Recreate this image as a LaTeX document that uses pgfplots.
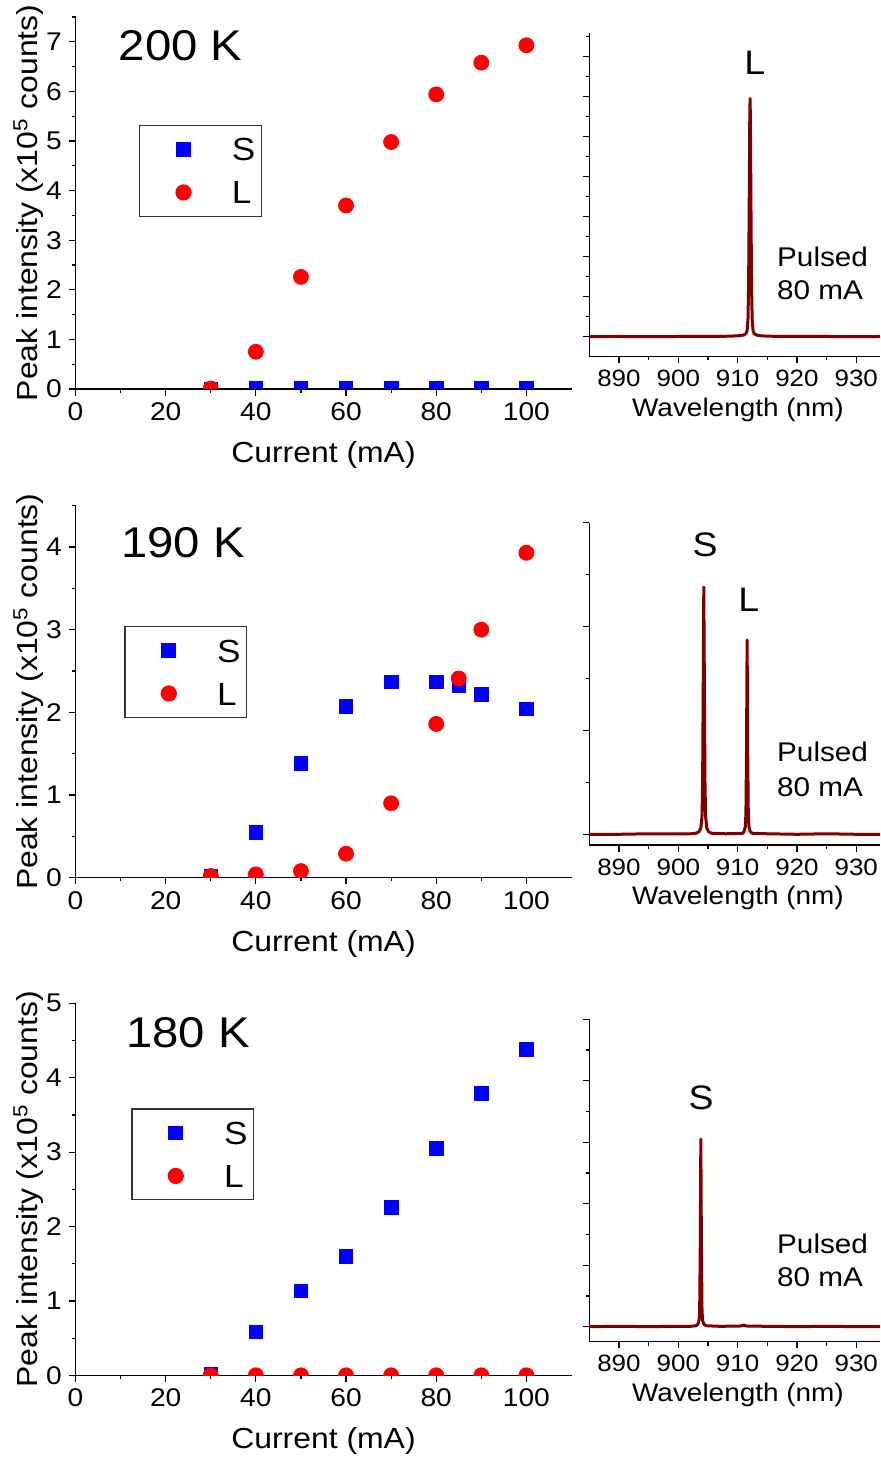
\documentclass[border=0pt]{standalone}
\usepackage{fontspec}
\setmainfont{Liberation Sans}[FakeStretch=1.1]
\usepackage{pgfplots}
\pgfplotsset{compat=1.18}
\definecolor{specred}{RGB}{128,0,0}

\pgfplotsset{
  panel/.style={
    scale only axis, axis lines=left,
    axis line style={-, line width=0.6pt, black},
    tick align=outside, major tick length=3.3pt, minor tick length=1.9pt,
    tick style={line width=0.6pt, black},
    /pgf/number format/assume math mode=true,
    clip marker paths=true,
  },
  leftpanel/.style={
    panel, width=248pt, height=186pt,
    xmin=0, xmax=110, ymin=0,
    xtick={0,20,...,100}, minor x tick num=1,
    ytick distance=1, minor y tick num=1,
    ticklabel style={font=\fontsize{12.8}{15}\selectfont},
    xlabel={Current (mA)},
    ylabel={Peak intensity (x10\textsuperscript{5} counts)},
    label style={font=\fontsize{14.5}{17}\selectfont},
    xlabel style={at={(axis description cs:0.5,0)}, anchor=center, yshift=-33pt},
    ylabel style={at={(axis description cs:0,0.5)}, anchor=center, yshift=23.4pt},
    legend cell align=left,
    legend image code/.code={\path (0pt,0pt) (42.5pt,0pt); \draw[##1] plot coordinates {(19.65pt,0pt)};},
    legend style={draw=black!80, line width=0.6pt, inner xsep=2pt, inner ysep=6.2pt,
      anchor=north west, font=\fontsize{16}{19}\selectfont, row sep=10pt,
      nodes={inner xsep=1pt, inner ysep=0pt, text height=11.5pt, text depth=0pt}},
  },
  rightpanel/.style={
    panel, width=145.35pt, xmin=885, xmax=934,
    xtick={890,900,...,930}, minor x tick num=1,
    yticklabels={},
    ticklabel style={font=\fontsize{11.8}{13}\selectfont},
    xlabel={Wavelength (nm)},
    xlabel style={font=\fontsize{12.7}{15}\selectfont, at={(axis description cs:0.5115,0)}, anchor=center, yshift=-26.5pt},
  },
  sser/.style={only marks, mark=square*, mark size=3.4pt, color=blue},
  lser/.style={only marks, mark=*, mark size=3.75pt, color=red},
  spec/.style={color=specred, line width=1.5pt, line join=round},
}
\tikzset{
  templab/.style={anchor=west, inner sep=0pt, font=\fontsize{21.5}{24}\selectfont},
  peaklab/.style={anchor=center, inner sep=0pt, font=\fontsize{17}{20}\selectfont},
  pulslab/.style={anchor=west, inner sep=0pt, font=\fontsize{13.5}{16}\selectfont},
}

\begin{document}
\begin{tikzpicture}
\path[use as bounding box] (0pt,0pt) rectangle (440pt,729pt);

% ---- 200 K ----
\begin{axis}[leftpanel, at={(37.75pt,534.5pt)}, anchor=south west, ymax=7.5,
  legend style={at={(axis description cs:0.128,0.7097)}}]
\addplot[sser] coordinates {(30,0.0) (40,0.01) (50,0.01) (60,0.01) (70,0.01) (80,0.01) (90,0.01) (100,0.01)};
\addlegendentry{S}
\addplot[lser] coordinates {(30,0.01) (40,0.75) (50,2.26) (60,3.70) (70,4.98) (80,5.94) (90,6.58) (100,6.93)};
\addlegendentry{L}
\node[templab] at (axis description cs:0.0865,0.922) {200 K};
\end{axis}

\begin{axis}[rightpanel, at={(294.65pt,550.65pt)}, anchor=south west, height=161.85pt,
  ymin=-1, ymax=15.17, ytick={0,2,...,14}, minor ytick={1,3,...,15}]
\addplot[spec] coordinates {(885,0.00) (890,0.01) (895,0.00) (900,0.01) (905,0.01) (908,0.02) (910,0.04) (911,0.08) (911.4,0.15) (911.6,0.3) (911.75,0.9) (911.85,2.5) (911.95,6.5) (912.05,11.0) (912.1,11.9) (912.15,11.0) (912.25,6.5) (912.35,2.5) (912.45,0.9) (912.6,0.3) (912.8,0.15) (913.2,0.08) (914,0.04) (916,0.02) (920,0.01) (925,0.01) (930,0.00) (934,0.01)};
\node[peaklab] at (axis cs:912.9,13.7) {L};
\node[pulslab] at (axis cs:916.6,4.0) {Pulsed};
\node[pulslab] at (axis cs:916.6,2.33) {80 mA};
\end{axis}

% ---- 190 K ----
\begin{axis}[leftpanel, at={(37.75pt,290.15pt)}, anchor=south west, ymax=4.5,
  legend style={at={(axis description cs:0.0984,0.6766)}}]
\addplot[sser] coordinates {(30,0.02) (40,0.55) (50,1.38) (60,2.07) (70,2.37) (80,2.37) (85,2.32) (90,2.22) (100,2.04)};
\addlegendentry{S}
\addplot[lser] coordinates {(30,0.02) (40,0.04) (50,0.08) (60,0.29) (70,0.90) (80,1.86) (85,2.41) (90,3.00) (100,3.93)};
\addlegendentry{L}
\node[templab] at (axis description cs:0.0917,0.8997) {190 K};
\end{axis}

\begin{axis}[rightpanel, at={(294.65pt,306.5pt)}, anchor=south west, height=161.15pt,
  ymin=-0.206, ymax=6.0, ytick={0,2,4,6}, minor ytick={1,3,5}]
\addplot[spec] coordinates {(885,0.00) (890,0.00) (895,0.01) (900,0.01) (902,0.01) (903.0,0.02) (903.5,0.05) (903.8,0.12) (904.0,0.35) (904.1,1.0) (904.2,2.8) (904.3,4.76) (904.4,2.8) (904.5,1.0) (904.6,0.35) (904.8,0.12) (905.1,0.05) (905.6,0.02) (908,0.01) (910.9,0.02) (911.1,0.06) (911.3,0.15) (911.4,0.4) (911.5,1.6) (911.6,3.74) (911.7,1.6) (911.8,0.4) (911.9,0.15) (912.1,0.06) (912.4,0.02) (915,0.01) (920,0.00) (925,0.01) (930,0.00) (934,0.00)};
\node[peaklab] at (axis cs:904.5,5.57) {S};
\node[peaklab] at (axis cs:911.9,4.52) {L};
\node[pulslab] at (axis cs:916.6,1.58) {Pulsed};
\node[pulslab] at (axis cs:916.6,0.90) {80 mA};
\end{axis}

% ---- 180 K ----
\begin{axis}[leftpanel, at={(37.75pt,41.35pt)}, anchor=south west, ymax=5,
  legend style={at={(axis description cs:0.1125,0.7174)}}]
\addplot[sser] coordinates {(30,0.02) (40,0.585) (50,1.135) (60,1.60) (70,2.26) (80,3.05) (90,3.79) (100,4.38)};
\addlegendentry{S}
\addplot[lser] coordinates {(30,0.0) (40,0.0) (50,0.0) (60,0.0) (70,0.0) (80,0.0) (90,0.0) (100,0.0)};
\addlegendentry{L}
\node[templab] at (axis description cs:0.1014,0.9214) {180 K};
\end{axis}

\begin{axis}[rightpanel, at={(294.65pt,58.15pt)}, anchor=south west, height=161.2pt,
  ymin=-0.49, ymax=10.0, ytick={0,2,...,10}, minor ytick={1,3,...,9}]
\addplot[spec] coordinates {(885,0.00) (890,0.01) (895,0.00) (900,0.01) (902,0.01) (903.0,0.03) (903.3,0.08) (903.5,0.2) (903.6,0.5) (903.7,2.5) (903.8,6.1) (903.9,2.5) (904.0,0.5) (904.1,0.2) (904.3,0.08) (904.7,0.03) (907,0.01) (910.5,0.02) (911,0.05) (911.5,0.02) (915,0.01) (920,0.00) (925,0.01) (930,0.00) (934,0.00)};
\node[peaklab] at (axis cs:903.85,7.46) {S};
\node[pulslab] at (axis cs:916.6,2.71) {Pulsed};
\node[pulslab] at (axis cs:916.6,1.60) {80 mA};
\end{axis}
\end{tikzpicture}
\end{document}
